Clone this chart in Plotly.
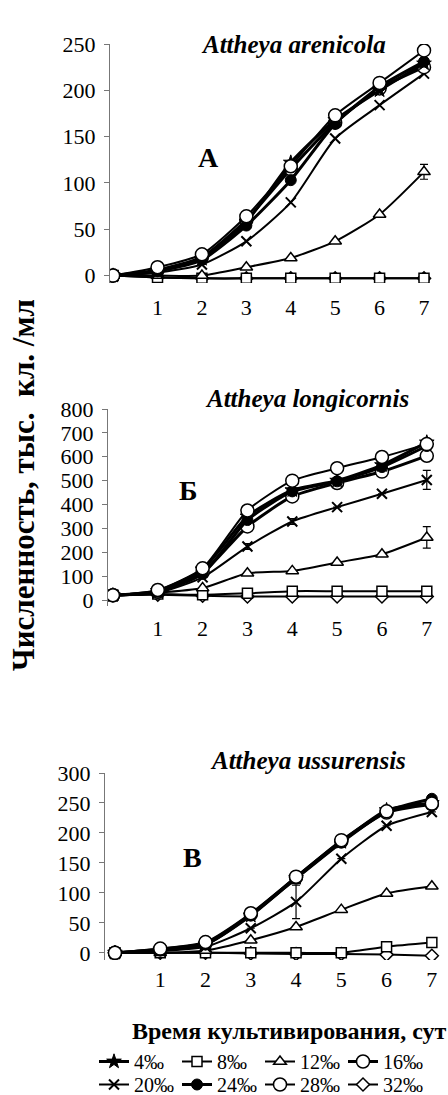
import plotly.graph_objects as go

# ---------------- data ----------------
days = [0, 1, 2, 3, 4, 5, 6, 7]
x_tick_vals = [1, 2, 3, 4, 5, 6, 7]
x_tick_text = ["1", "2", "3", "4", "5", "6", "7"]
salinity_labels = ["4‰", "8‰", "12‰", "16‰", "20‰", "24‰", "28‰", "32‰"]

# Panel A – Attheya arenicola
a_4 = [0, 5, 18, 58, 122, 168, 200, 229]
a_8 = [0, -2, -3, -3, -3, -3, -3, -3]
a_12 = [0, 0, 0, 9, 19, 37, 66, 112]
a_16 = [0, 6, 20, 60, 115, 165, 202, 225]
a_20 = [0, 3, 12, 37, 79, 148, 184, 218]
a_24 = [0, 5, 17, 54, 103, 164, 204, 231]
a_28 = [0, 9, 23, 64, 118, 173, 208, 243]
a_32 = [0, -2, -3, -3, -3, -3, -3, -3]
a_err_12 = [None, None, None, None, None, None, None, 8]

# Panel B – Attheya longicornis
b_4 = [20, 38, 128, 350, 460, 500, 565, 660]
b_8 = [20, 25, 22, 28, 37, 37, 37, 37]
b_12 = [20, 30, 50, 112, 122, 157, 192, 262]
b_16 = [20, 35, 115, 308, 434, 490, 538, 604]
b_20 = [20, 30, 95, 224, 329, 389, 445, 503]
b_24 = [20, 35, 110, 335, 455, 497, 557, 645]
b_28 = [20, 42, 133, 375, 500, 552, 599, 653]
b_32 = [20, 22, 18, 15, 15, 15, 15, 15]
b_err_12 = [None, None, None, None, None, None, None, 45]
b_err_20 = [None, None, None, 12, 12, None, None, 40]
b_err_4 = [None, None, None, None, None, None, None, 15]

# Panel C – Attheya ussurensis
c_4 = [0, 5, 14, 62, 125, 185, 238, 250]
c_8 = [0, 0, 0, 0, 0, 0, 10, 17]
c_12 = [0, 0, 4, 21, 43, 72, 99, 111]
c_16 = [0, 6, 16, 64, 126, 186, 234, 248]
c_20 = [0, 3, 10, 41, 85, 157, 212, 235]
c_24 = [0, 4, 14, 63, 124, 184, 236, 257]
c_28 = [0, 7, 18, 66, 127, 188, 236, 249]
c_32 = [0, 0, 0, -1, -2, -2, -3, -5]
c_err_20 = [None, None, None, None, 28, None, None, None]

panel_titles = ["Attheya arenicola", "Attheya longicornis", "Attheya ussurensis"]
panel_letters = ["А", "Б", "В"]
y_tick_a = [0, 50, 100, 150, 200, 250]
y_tick_b = [0, 100, 200, 300, 400, 500, 600, 700, 800]
y_tick_c = [0, 50, 100, 150, 200, 250, 300]
y_title = "Численность, тыс.  кл. /мл"
x_title = "Время культивирования, сут"

# ---------------- styles ----------------
W, H = 448, 1095
FONT = "Liberation Serif"
styles = [
    dict(symbol="star", size=11, color="black", lw=1, width=3),          # 4
    dict(symbol="square", size=10, color="white", lw=1.5, width=2),       # 8
    dict(symbol="triangle-up", size=11, color="white", lw=1.5, width=2),  # 12
    dict(symbol="circle", size=13, color="white", lw=1.5, width=3),       # 16
    dict(symbol="x-thin-open", size=10, color="black", lw=2, width=2),    # 20
    dict(symbol="circle", size=11, color="black", lw=1, width=3),         # 24
    dict(symbol="circle", size=13, color="white", lw=1.5, width=2),       # 28
    dict(symbol="diamond", size=10, color="white", lw=1.5, width=2),      # 32
]

panels = [
    dict(series=[a_4, a_8, a_12, a_16, a_20, a_24, a_28, a_32],
         errs={2: a_err_12}, xa="x", ya="y"),
    dict(series=[b_4, b_8, b_12, b_16, b_20, b_24, b_28, b_32],
         errs={0: b_err_4, 2: b_err_12, 4: b_err_20}, xa="x2", ya="y2"),
    dict(series=[c_4, c_8, c_12, c_16, c_20, c_24, c_28, c_32],
         errs={4: c_err_20}, xa="x3", ya="y3"),
]

order = [7, 1, 2, 4, 3, 0, 5, 6]

fig = go.Figure()
for pi, p in enumerate(panels):
    for si in order:
        st = styles[si]
        err = p["errs"].get(si)
        tr = go.Scatter(
            x=days, y=p["series"][si], xaxis=p["xa"], yaxis=p["ya"],
            mode="lines+markers", name=salinity_labels[si],
            line=dict(color="black", width=st["width"], shape="spline", smoothing=0.6),
            marker=dict(symbol=st["symbol"], size=st["size"], color=st["color"],
                        line=dict(color="black", width=st["lw"])),
            showlegend=(pi == 0),
            legend=("legend" if si < 4 else "legend2"),
            legendrank=si,
        )
        if err is not None:
            tr.error_y = dict(type="data", array=err, visible=True,
                              color="black", thickness=1.2, width=4)
        fig.add_trace(tr)

def px_dom_y(top_px, bot_px):
    return [1 - bot_px / H, 1 - top_px / H]

def px_dom_x(l, r):
    return [l / W, r / W]

axis_common = dict(showgrid=False, zeroline=False)
xcommon = dict(axis_common, showline=False, ticks="", tickvals=x_tick_vals,
               ticktext=x_tick_text, tickfont=dict(family=FONT, size=22, color="black"))
ycommon = dict(axis_common, showline=True, linecolor="#777", linewidth=1,
               ticks="outside", ticklen=5, tickcolor="#777",
               tickfont=dict(family=FONT, size=22, color="black"), ticklabelstandoff=4)

legend_common = dict(orientation="h", xanchor="left", yanchor="top",
                     font=dict(family=FONT, size=20, color="black"),
                     bgcolor="rgba(0,0,0,0)", itemwidth=30, entrywidth=38,
                     entrywidthmode="pixels", traceorder="normal", tracegroupgap=0)

fig.update_layout(
    width=W, height=H, margin=dict(l=0, r=0, t=0, b=0, autoexpand=False),
    paper_bgcolor="white", plot_bgcolor="white",
    xaxis=dict(xcommon, domain=px_dom_x(110, 436), range=[-0.07, 7.27],
               anchor="y", ticklabelstandoff=9),
    yaxis=dict(ycommon, domain=px_dom_y(44, 283), range=[-8, 250],
               tickvals=y_tick_a, anchor="x"),
    xaxis2=dict(xcommon, domain=px_dom_x(108, 438), range=[-0.11, 7.25],
                anchor="y2", ticklabelstandoff=7),
    yaxis2=dict(ycommon, domain=px_dom_y(409, 606), range=[-25, 800],
                tickvals=y_tick_b, anchor="x2"),
    xaxis3=dict(xcommon, domain=px_dom_x(105, 440), range=[-0.22, 7.18],
                anchor="y3", ticklabelstandoff=4),
    yaxis3=dict(ycommon, domain=px_dom_y(773, 960), range=[-12, 300],
                tickvals=y_tick_c, anchor="x3"),
    legend=dict(legend_common, x=94 / W, y=1 - 1042 / H),
    legend2=dict(legend_common, x=94 / W, y=1 - 1065 / H),
)

ann = []
title_pos = [(293, 44), (307, 398), (308, 760)]
letter_pos = [(208, 157), (188, 490), (192, 857)]
for t, (tx, ty) in zip(panel_titles, title_pos):
    ann.append(dict(text="<b><i>" + t + "</i></b>", x=tx / W, y=1 - ty / H,
                    xref="paper", yref="paper", showarrow=False,
                    xanchor="center", yanchor="middle",
                    font=dict(family=FONT, size=25, color="black")))
for t, (tx, ty) in zip(panel_letters, letter_pos):
    ann.append(dict(text="<b>" + t + "</b>", x=tx / W, y=1 - ty / H,
                    xref="paper", yref="paper", showarrow=False,
                    xanchor="center", yanchor="middle",
                    font=dict(family=FONT, size=28, color="black")))
ann.append(dict(text="<b>" + y_title + "</b>", x=24 / W, y=1 - 485 / H,
                xref="paper", yref="paper", showarrow=False, textangle=-90,
                xanchor="center", yanchor="middle",
                font=dict(family=FONT, size=31, color="black")))
ann.append(dict(text="<b>" + x_title + "</b>", x=289 / W, y=1 - 1031 / H,
                xref="paper", yref="paper", showarrow=False,
                xanchor="center", yanchor="middle",
                font=dict(family=FONT, size=24, color="black")))
fig.update_layout(annotations=ann)

fig.write_html("out.html", config={"displayModeBar": False},
               post_script="document.body.style.margin='0px';")
